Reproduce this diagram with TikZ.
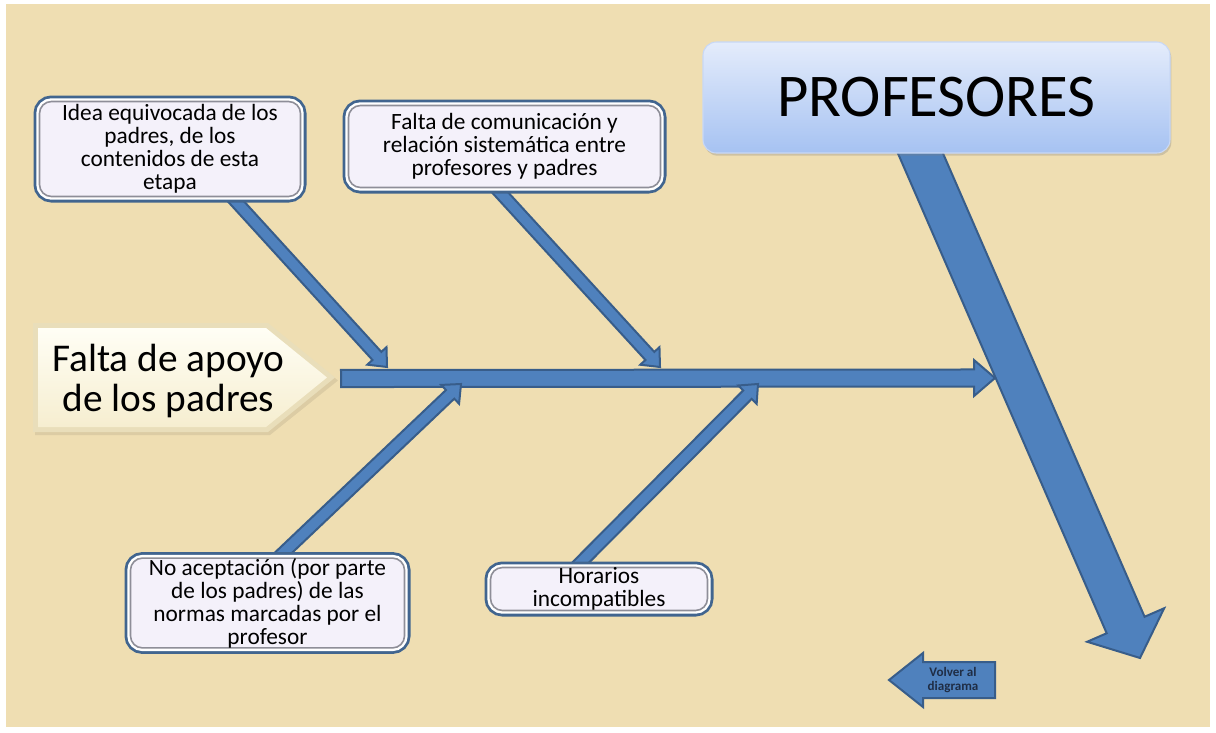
\documentclass[tikz,border=0pt]{standalone}
\usepackage{fontspec}
\setmainfont{Carlito}
\usetikzlibrary{calc,shadows}
\pgfdeclarelayer{bg}
\pgfdeclarelayer{arrows}
\pgfsetlayers{bg,arrows,main}

\definecolor{paper}{RGB}{239,222,178}
\definecolor{arrowfill}{HTML}{4F81BD}
\definecolor{arrowline}{HTML}{385D8A}
\definecolor{boxouter}{HTML}{41658F}
\definecolor{boxinner}{HTML}{8E8E98}
\definecolor{boxfill}{HTML}{F4F1FA}
\definecolor{heads}{HTML}{1F2D45}
\definecolor{headtop}{RGB}{228,236,251}
\definecolor{headbot}{RGB}{166,194,242}
\definecolor{headrim}{RGB}{200,216,246}
\definecolor{rim}{RGB}{233,222,186}
\definecolor{creamtop}{RGB}{255,254,245}
\definecolor{creambot}{RGB}{246,238,208}

% block arrow: #1 style, #2 start, #3 tip, #4 shaft half width, #5 head half width, #6 head length
\newcommand\blockarrow[6]{%
  \coordinate (ba-h) at ($(#3)!#6!(#2)$);
  \draw[#1] ($(#2)!#4!90:(#3)$) -- ($(ba-h)!#4!90:(#3)$) -- ($(ba-h)!#5!90:(#3)$)
    -- (#3) -- ($(ba-h)!#5!-90:(#3)$) -- ($(ba-h)!#4!-90:(#3)$) -- ($(#2)!#4!-90:(#3)$) -- cycle;
}

\tikzset{
  blue arrow/.style={fill=arrowfill, draw=arrowline, line width=1.5pt, line join=miter},
  causebox/.style={rounded corners=9pt, draw=boxinner, line width=1.2pt, fill=boxfill,
    preaction={draw=boxouter, line width=9pt},
    preaction={draw=white, line width=4.8pt},
    inner sep=0pt, align=center, text=black,
    font=\fontsize{17.5pt}{17.25pt}\selectfont},
  headbox/.style={rounded corners=10pt, top color=headtop, bottom color=headbot,
    draw=headrim, line width=0.8pt, inner sep=0pt, minimum width=350.25pt, minimum height=83.25pt,
    drop shadow={shadow xshift=1pt, shadow yshift=-2pt, opacity=0.3},
    font=\fontsize{45.5pt}{50pt}\selectfont},
  effecttext/.style={align=center, inner sep=0pt, font=\fontsize{29.5pt}{30pt}\selectfont},
  backtext/.style={align=center, inner sep=0pt, text=heads, font=\bfseries\fontsize{9.8pt}{10.6pt}\selectfont}
}

\begin{document}
\begin{tikzpicture}[x=0.75pt,y=-0.75pt]
\useasboundingbox (0,0) rectangle (1216,732);

% paper
\begin{pgfonlayer}{bg}
  \fill[white] (0,0) rectangle (1216,732);
  \fill[paper] (6,4) rectangle (1210,727);
\end{pgfonlayer}

% head of the fishbone
\node[headbox] (prof) at (936.5,97.5) {PROFESORES};

% effect label (pentagon)
\fill[black, opacity=0.08] (35,326) -- (270,326) -- (338,380.5) -- (270,435) -- (35,435) -- cycle;
\fill[rim] (33,323) -- (268,323) -- (335,377.5) -- (268,432) -- (33,432) -- cycle;
\shade[top color=creamtop, bottom color=creambot]
  (38,328) -- (266,328) -- (327,377.5) -- (266,427) -- (38,427) -- cycle;
\coordinate (apoyotip) at (335,377.5);
\node[effecttext] (apoyo) at (168.5,381) {Falta de apoyo\\de los padres};

% cause boxes
\node[causebox, minimum width=195.75pt, minimum height=71.25pt] (idea) at (170,149)
  {Idea equivocada de los\\padres, de los\\contenidos de esta\\etapa};
\node[causebox, minimum width=234pt, minimum height=61.5pt] (comun) at (504.5,146.5)
  {Falta de comunicación y\\relación sistemática entre\\profesores y padres};
\node[causebox, minimum width=205.5pt, minimum height=66.75pt] (normas) at (267.5,603)
  {No aceptación (por parte\\de los padres) de las\\normas marcadas por el\\profesor};
\node[causebox, minimum width=162.75pt, minimum height=32.25pt] (horarios) at (599,589)
  {Horarios\\incompatibles};

% arrows
\begin{pgfonlayer}{arrows}
  % big arrow leaving the head box
  \coordinate (bigS) at ($(prof.south)+(-23.8,-18)$);
  \coordinate (bigE) at (1140,658);
  \blockarrow{blue arrow}{bigS}{bigE}{15.5pt}{31.5pt}{27pt}

  % spine
  \coordinate (spineS) at ($(apoyotip)+(6,1)$);
  \coordinate (spineE) at (995,378);
  \blockarrow{blue arrow}{spineS}{spineE}{6.4pt}{13.5pt}{15.75pt}

  % bones
  \coordinate (s1) at ($(idea.south)+(59,-3.5)$);
  \coordinate (t1) at (387,367);
  \coordinate (s2) at ($(comun.south)+(-10.5,-2.5)$);
  \coordinate (t2) at (660,367);
  \coordinate (s3) at ($(normas.north)+(8.5,2.5)$);
  \coordinate (t3) at (461,384);
  \coordinate (s4) at ($(horarios.north)+(-25,2.5)$);
  \coordinate (t4) at (758,384);
  \blockarrow{blue arrow}{s1}{t1}{4.5pt}{9.75pt}{11.25pt}
  \blockarrow{blue arrow}{s2}{t2}{4.5pt}{9.75pt}{11.25pt}
  \blockarrow{blue arrow}{s3}{t3}{4.5pt}{9.75pt}{11.25pt}
  \blockarrow{blue arrow}{s4}{t4}{4.5pt}{9.75pt}{11.25pt}
\end{pgfonlayer}

% back button
\draw[blue arrow] (889,680) -- (923,653) -- (923,662) -- (995,662) -- (995,698) -- (923,698) -- (923,707) -- cycle;
\node[backtext] (volver) at (953,680) {Volver al\\diagrama};

\end{tikzpicture}
\end{document}
